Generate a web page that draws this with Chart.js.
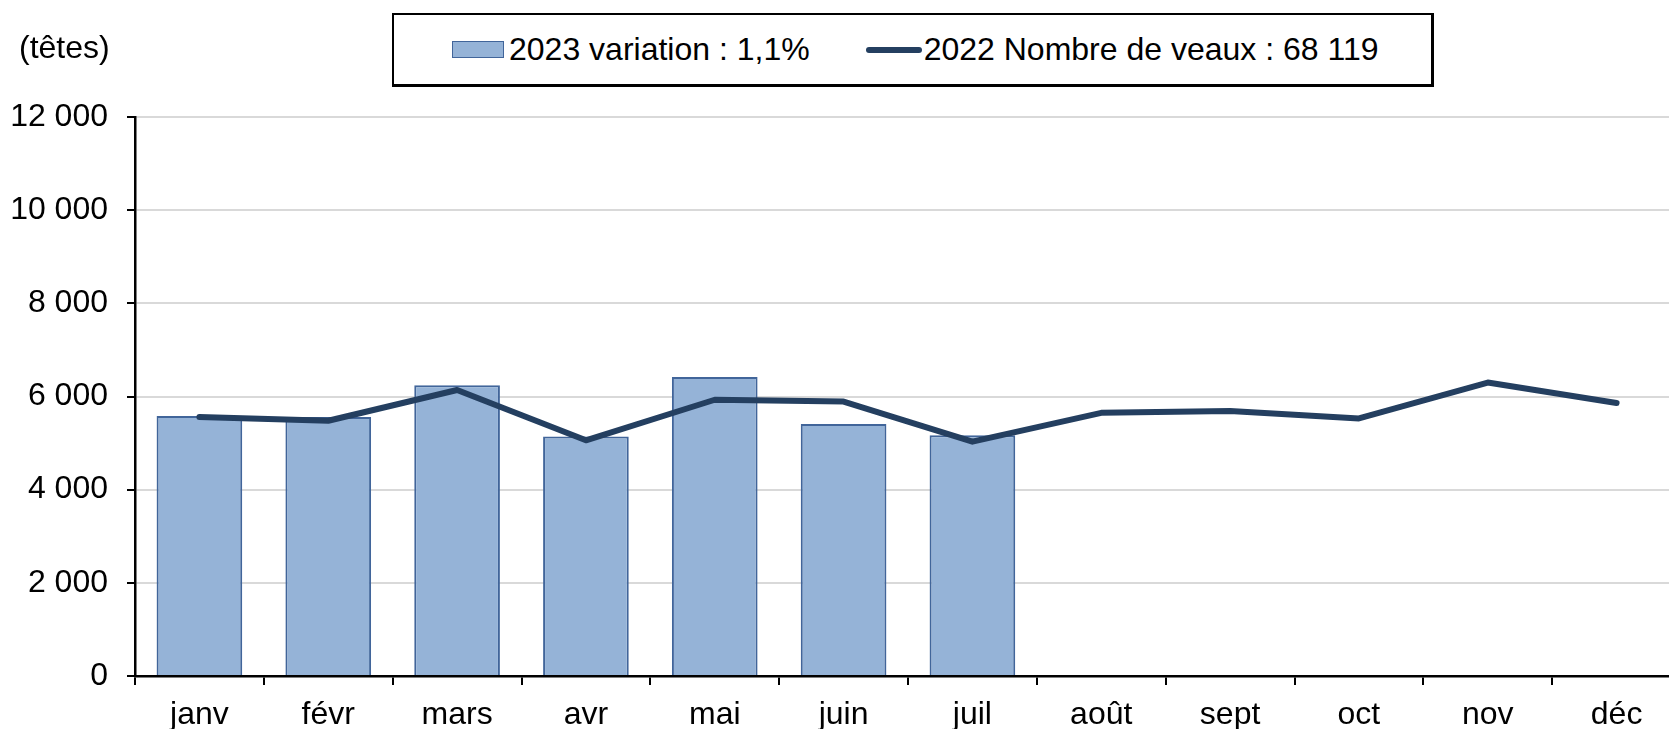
<!DOCTYPE html>
<html lang="fr">
<head>
<meta charset="utf-8">
<title>Nombre de veaux</title>
<script src="https://cdn.jsdelivr.net/npm/chart.js@4.4.1/dist/chart.umd.min.js"></script>
<style>
  html, body { margin: 0; padding: 0; background: #fff; overflow: hidden; }
  #wrap { position: relative; width: 1681px; height: 729px; }
  #unit { position: absolute; left: 19px; top: 29px; font: 32px "Liberation Sans", Arial, sans-serif; color: #000; }
  #legend {
    position: absolute; left: 392px; top: 13px; width: 1037px; height: 69px;
    border: 2px solid #000; border-right-width: 3px; border-bottom-width: 3px;
    display: flex; align-items: center;
    font: 32px "Liberation Sans", Arial, sans-serif; color: #000; background: #fff;
  }
  #legend .item { display: flex; align-items: center; white-space: nowrap; }
  #legend .box { width: 50px; height: 15px; margin-right: 5px; }
  #legend .line { width: 56px; height: 6px; border-radius: 3px; margin-right: 2px; }
</style>
</head>
<body>
<div id="wrap">
  <canvas id="chart"></canvas>
  <div id="unit">(têtes)</div>
  <div id="legend"></div>
</div>
<script>
const months = ['janv', 'févr', 'mars', 'avr', 'mai', 'juin', 'juil', 'août', 'sept', 'oct', 'nov', 'déc'];
const veaux2023 = [5580, 5560, 6240, 5140, 6420, 5410, 5170];
const veaux2022 = [5560, 5480, 6140, 5060, 5930, 5890, 5030, 5650, 5690, 5530, 6300, 5860];
const yTickLabels = ['0', '2 000', '4 000', '6 000', '8 000', '10 000', '12 000'];

const FONT = '"Liberation Sans", Arial, sans-serif';
const BAR_FILL = '#95B3D7';
const BAR_EDGE = '#41659A';
const LINE_COL = '#243F60';

const chart = new Chart(document.getElementById('chart'), {
    type: 'bar',
    data: {
        labels: months,
        datasets: [{
            type: 'line',
            label: '2022 Nombre de veaux : 68 119',
            data: veaux2022,
            borderColor: LINE_COL,
            backgroundColor: LINE_COL,
            borderWidth: 6,
            pointRadius: 0,
            tension: 0,
            borderCapStyle: 'round',
            borderJoinStyle: 'round',
            order: 0
        },
        {
            type: 'bar',
            label: '2023 variation : 1,1%',
            data: veaux2023,
            backgroundColor: BAR_FILL,
            borderColor: BAR_EDGE,
            borderWidth: 2,
            barPercentage: 0.665,
            categoryPercentage: 1,
            order: 1
        }]
    },
    options: {
        responsive: true,
        maintainAspectRatio: false,
        animation: false,
        layout: { padding: { top: 117, right: 0, bottom: 0, left: 0 } },
        plugins: { legend: { display: false }, tooltip: { enabled: false } },
        scales: {
            x: {
                offset: true,
                grid: { offset: true, drawOnChartArea: false, color: '#000', tickLength: 9, lineWidth: 2 },
                border: { color: '#000', width: 2.5 },
                ticks: { color: '#000', font: { family: FONT, size: 32 }, padding: 11, maxRotation: 0, autoSkip: false },
                afterFit(s) { s.height = 53; }
            },
            y: {
                min: 0,
                max: 12000,
                ticks: {
                    stepSize: 2000,
                    color: '#000',
                    font: { family: FONT, size: 32 },
                    padding: 19,
                    callback: (v, i) => yTickLabels[i]
                },
                grid: { color: '#D9D9D9', lineWidth: 2, tickColor: '#000', tickLength: 8, tickWidth: 2 },
                border: { color: '#000', width: 2.5 },
                afterFit(s) { s.width = 135; }
            }
        }
    }
});

// legend en HTML (cadre noir comme dans l'original)
const legend = document.getElementById('legend');
const barDs = chart.data.datasets[1];
const lineDs = chart.data.datasets[0];
legend.innerHTML = `
    <div class="item" style="margin-left:58px">
        <span class="box" style="background:${barDs.backgroundColor};border:1px solid ${barDs.borderColor}"></span>${barDs.label}
    </div>
    <div class="item" style="margin-left:56px">
        <span class="line" style="background:${lineDs.borderColor}"></span>${lineDs.label}
    </div>`;
</script>
</body>
</html>
